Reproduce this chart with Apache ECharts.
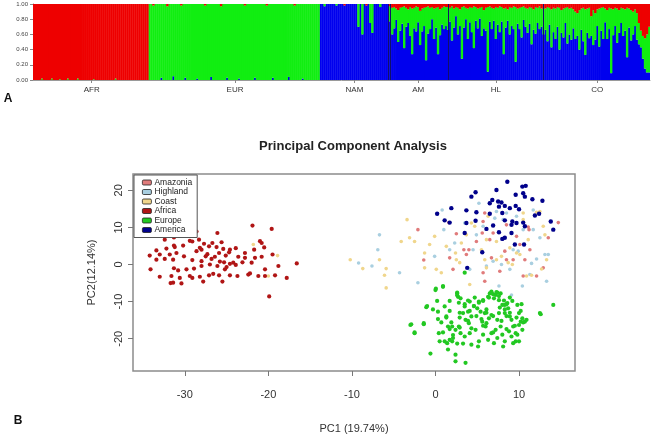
<!DOCTYPE html>
<html><head><meta charset="utf-8">
<script src="https://cdn.jsdelivr.net/npm/echarts@6/dist/echarts.min.js"></script>
<style>html,body{margin:0;padding:0;background:#fff}#c{width:666px;height:435px}</style>
</head><body><div id="c"></div>
<script>
// ---------- Panel A: admixture proportions (K=3) ----------
const groupNames = ['AFR','EUR','NAM','AM','HL','CO'];
const yTicksA = [0, 0.2, 0.4, 0.6, 0.8, 1.0];

const afrBlue = [0,0,0,0,0,0,0,0,0,0, 0,0,0,0,0,0,0,0,0,0, 0,0,0,0,0,0,0,0,0,0, 0,0,0,0,0,0,0,0,0,0, 0,0,0,0,0,0,0,0,0,0, 0,0,0,0,0,0,0,0];
const afrGreen = [0,0,0,0,0.02,0,0,0,0,0.02, 0,0,0,0.01,0,0,0,0.02,0,0, 0,0,0.02,0,0,0,0,0,0,0, 0.01,0,0,0,0,0,0,0,0,0, 0,0.02,0,0,0,0,0,0,0,0, 0,0,0,0,0,0,0,0];
const afrRed = [1,1,1,1,0.98,1,1,1,1,0.98, 1,1,1,0.99,1,1,1,0.98,1,1, 1,1,0.98,1,1,1,1,1,1,1, 0.99,1,1,1,1,1,1,1,1,1, 1,0.98,1,1,1,1,1,1,1,1, 1,1,1,1,1,1,1,1];

const eurBlue = [0,0,0,0,0,0,0.03,0,0,0, 0,0,0.05,0,0,0,0,0,0.03,0, 0,0,0,0,0.02,0,0,0,0,0, 0,0.04,0,0,0,0,0,0,0,0.03, 0,0,0,0,0,0.02,0,0,0,0, 0,0,0,0.03,0,0,0,0,0,0, 0,0,0.03,0,0,0,0,0,0,0, 0.04,0,0,0,0,0,0,0.02,0,0, 0,0,0,0,0,0];
const eurGreen = [1,1,0.98,1,1,1,0.97,1,1,0.97, 1,1,0.95,1,1,1,0.98,1,0.97,1, 1,1,1,1,0.98,1,1,1,0.98,1, 1,0.96,1,1,1,1,0.97,1,1,0.97, 1,1,1,1,1,0.98,1,1,0.98,1, 1,1,1,0.97,1,1,1,1,1,0.98, 1,1,0.97,1,1,1,1,1,1,1, 0.96,1,1,0.98,1,1,1,0.98,1,1, 1,1,1,1,1,1];
const eurRed = [0,0,0.02,0,0,0,0,0,0,0.03, 0,0,0,0,0,0,0.02,0,0,0, 0,0,0,0,0,0,0,0,0.02,0, 0,0,0,0,0,0,0.03,0,0,0, 0,0,0,0,0,0,0,0,0.02,0, 0,0,0,0,0,0,0,0,0,0.02, 0,0,0,0,0,0,0,0,0,0, 0,0,0,0.02,0,0,0,0,0,0, 0,0,0,0,0,0];

const namBlue = [1,1,0.97,1,1,1,1,1,0.98,1, 1,1,0.98,1,1,1,1,1,1,0.70, 1,0.60,1,0.98,1,0.75,0.62,1,1,1, 0.96,1,1,1,1];
const namGreen = [0,0,0.03,0,0,0,0,0,0.02,0, 0,0,0,0,0,0,0,0,0,0.30, 0,0.40,0,0,0,0.25,0.38,0,0,0, 0.04,0,0,0,0];
const namRed = [0,0,0,0,0,0,0,0,0,0, 0,0,0.02,0,0,0,0,0,0,0, 0,0,0,0.02,0,0,0,0,0,0, 0,0,0,0,0];

const amBlue = [0.77,0.60,0.68,0.79,0.50,0.65,0.74,0.42,0.70,0.75,0.58,0.34,0.68,0.64,0.76,0.46,0.64,0.71,0.26,0.61,0.67,0.80,0.54,0.69,0.34,0.59,0.73,0.67,0.71];
const amGreen = [0.20,0.35,0.28,0.15,0.42,0.30,0.22,0.55,0.25,0.18,0.38,0.60,0.27,0.33,0.20,0.45,0.30,0.24,0.70,0.36,0.28,0.16,0.40,0.26,0.62,0.34,0.22,0.30,0.25];
const amRed = [0.03,0.05,0.04,0.06,0.08,0.05,0.04,0.03,0.05,0.07,0.04,0.06,0.05,0.03,0.04,0.09,0.06,0.05,0.04,0.03,0.05,0.04,0.06,0.05,0.04,0.07,0.05,0.03,0.04];

const hlBlue = [0.66,0.77,0.52,0.69,0.84,0.60,0.71,0.28,0.69,0.80,0.54,0.76,0.63,0.42,0.78,0.68,0.81,0.58,0.68,0.65,0.11,0.77,0.67,0.78,0.54,0.73,0.63,0.77,0.34,0.69,0.78,0.60,0.71,0.67,0.24,0.74,0.67,0.56,0.79,0.70,0.62,0.74,0.47,0.66,0.61,0.75,0.67,0.70];
const hlGreen = [0.30,0.18,0.45,0.25,0.12,0.35,0.22,0.68,0.28,0.15,0.40,0.20,0.32,0.55,0.18,0.26,0.14,0.38,0.24,0.30,0.85,0.20,0.28,0.16,0.42,0.22,0.34,0.19,0.60,0.26,0.15,0.36,0.24,0.30,0.72,0.20,0.28,0.40,0.18,0.25,0.32,0.22,0.48,0.27,0.35,0.20,0.30,0.24];
const hlRed = [0.04,0.05,0.03,0.06,0.04,0.05,0.07,0.04,0.03,0.05,0.06,0.04,0.05,0.03,0.04,0.06,0.05,0.04,0.08,0.05,0.04,0.03,0.05,0.06,0.04,0.05,0.03,0.04,0.06,0.05,0.07,0.04,0.05,0.03,0.04,0.06,0.05,0.04,0.03,0.05,0.06,0.04,0.05,0.07,0.04,0.05,0.03,0.06];

const coBlue = [0.60,0.66,0.51,0.73,0.43,0.63,0.54,0.70,0.40,0.62,0.56,0.75,0.48,0.60,0.53,0.68,0.54,0.58,0.40,0.66,0.51,0.33,0.62,0.55,0.58,0.46,0.53,0.71,0.44,0.65,0.54,0.76,0.54,0.67,0.09,0.59,0.71,0.49,0.62,0.75,0.58,0.65,0.30,0.69,0.52,0.60,0.71,0.53,0.47,0.43,0.28,0.15,0.10,0.10];
const coGreen = [0.35,0.28,0.45,0.22,0.50,0.32,0.40,0.26,0.55,0.30,0.38,0.20,0.48,0.34,0.42,0.25,0.36,0.30,0.52,0.28,0.44,0.60,0.32,0.40,0.26,0.46,0.35,0.22,0.50,0.30,0.42,0.18,0.38,0.28,0.85,0.34,0.24,0.45,0.30,0.20,0.36,0.28,0.65,0.25,0.40,0.30,0.22,0.35,0.28,0.22,0.30,0.40,0.50,0.60];
const coRed = [0.05,0.06,0.04,0.05,0.07,0.05,0.06,0.04,0.05,0.08,0.06,0.05,0.04,0.06,0.05,0.07,0.10,0.12,0.08,0.06,0.05,0.07,0.06,0.05,0.16,0.08,0.12,0.07,0.06,0.05,0.04,0.06,0.08,0.05,0.06,0.07,0.05,0.06,0.08,0.05,0.06,0.07,0.05,0.06,0.08,0.10,0.07,0.12,0.25,0.35,0.42,0.45,0.40,0.30];

// ---------- Panel B: PCA (PC1, PC2) ----------
const pcaTicksX = [-30, -20, -10, 0, 10];
const pcaTicksY = [-20, -10, 0, 10, 20];
const popNames = ['Amazonia','Highland','Coast','Africa','Europe','America'];

const amazonia = [[-2.1,9.4],[1.6,11.3],[2.5,8.3],[3.4,4.0],[4.0,4.0],[-1.4,1.2],[5.9,13.9],[5.7,11.6],[5.6,8.5],[6.9,8.5],[8.5,10.7],[9.7,7.6],[10.1,5.4],[9.3,1.3],[8.5,1.3],[6.7,1.8],[12.9,-0.9],[12.1,-3.1],[11.1,10.1],[13.5,7.2],[14.7,11.3],[3.7,2.7],[1.7,1.8],[2.1,-1.3],[7.7,-1.8],[5.7,-2.2],[10.5,-3.1],[11.3,4.0],[8.3,3.6],[4.9,6.2],[6.5,6.7],[11.2,9.4],[10.7,1.3],[5.9,-4.5]];
const highland = [[-6.7,8.0],[-6.9,4.0],[-7.6,-0.4],[-4.3,-2.2],[-2.1,-4.9],[0.8,14.7],[5.2,16.5],[7.3,14.3],[8.5,13.9],[11.7,14.7],[8.1,12.1],[7.1,12.5],[11.7,9.4],[10.5,9.4],[12.5,7.2],[3.5,11.2],[4.5,4.0],[9.3,4.0],[9.9,3.6],[6.9,0.9],[7.9,0.0],[11.5,0.3],[12.1,1.5],[13.1,2.7],[13.5,2.7],[13.3,-4.5],[11.3,-2.7],[8.9,-1.3],[6.1,-0.4],[1.7,4.0],[-0.1,2.2],[1.0,9.4],[2.3,5.8],[4.1,-1.3],[4.9,8.0],[5.7,10.3],[9.7,13.0],[-9.2,0.4],[7.6,-5.8],[10.4,-5.8],[9.1,-8.2]];
const coast = [[-3.4,12.1],[-4.1,6.2],[-3.1,7.2],[-2.5,6.2],[-6.7,1.3],[-8.7,-1.1],[-5.9,-1.1],[-6.1,-2.9],[-5.9,-6.3],[-1.3,-0.9],[-10.2,1.3],[-0.1,7.6],[1.3,4.9],[2.4,3.1],[3.1,5.8],[4.3,11.2],[4.7,10.3],[5.5,4.0],[5.9,1.3],[6.1,-0.9],[7.3,1.3],[8.7,0.5],[9.2,0.0],[9.7,3.1],[10.5,13.9],[11.1,6.7],[10.9,-3.1],[11.5,-2.9],[0.7,-2.2],[0.1,-1.3],[2.9,0.5],[3.7,8.0],[6.1,6.7],[7.3,6.2],[8.9,4.5],[7.9,2.2],[6.3,13.0],[10.5,12.1],[12.1,14.1],[2.5,1.3],[-1.3,3.1],[-0.7,5.4],[12.9,10.3],[13.1,8.0],[13.3,1.3],[12.7,-1.2],[10.1,2.7],[12.5,14.3],[4.1,-5.4],[-21.8,5.4],[-18.9,2.4],[-20.0,-3.1]];
const africa = [[-28.6,8.9],[-26.1,8.5],[-32.4,6.7],[-31.3,7.3],[-29.4,6.4],[-29.1,6.2],[-28.3,6.7],[-27.7,5.6],[-26.7,5.8],[-25.6,6.0],
[-30.2,5.1],[-31.3,5.1],[-31.2,4.7],[-32.2,4.3],[-33.4,3.8],[-28.2,4.5],[-28.0,4.0],[-28.6,3.6],[-27.1,4.9],[-26.2,4.7],
[-25.4,4.2],[-24.6,4.0],[-23.9,4.4],[-22.8,3.1],[-21.9,10.5],[-19.6,9.6],[-21.0,6.3],[-20.8,5.8],[-21.7,4.0],[-20.5,4.6],
[-34.2,2.4],[-33.0,2.7],[-31.8,2.7],[-31.0,3.1],[-30.1,2.2],[-27.3,2.8],[-27.5,2.2],[-26.4,2.1],[-25.9,3.1],[-25.1,2.4],
[-24.7,3.3],[-23.6,2.1],[-22.8,1.8],[-21.6,1.8],[-20.8,2.1],[-19.5,2.7],[-33.4,1.3],[-32.4,1.5],[-31.4,1.3],[-29.1,1.2],
[-28.0,0.9],[-26.8,1.5],[-25.8,0.8],[-25.3,0.6],[-24.6,0.2],[-24.2,0.5],[-23.1,0.6],[-22.0,0.5],[-34.1,-1.3],[-31.3,-1.0],
[-30.8,-1.6],[-29.8,-1.3],[-28.9,-1.1],[-28.0,-0.4],[-27.0,0.0],[-26.1,-0.4],[-25.2,-1.3],[-25.0,-0.7],[-23.9,-0.1],[-20.4,-1.3],
[-18.8,-0.4],[-16.6,0.3],[-33.0,-3.3],[-31.6,-3.1],[-30.6,-3.6],[-29.4,-3.1],[-29.1,-3.6],[-28.2,-3.3],[-27.1,-2.9],[-26.6,-2.5],
[-25.9,-2.9],[-24.6,-2.9],[-23.7,-3.1],[-22.4,-2.7],[-22.2,-2.4],[-21.2,-3.1],[-20.4,-3.1],[-19.2,-2.9],[-17.8,-3.6],[-31.4,-4.9],
[-30.4,-5.1],[-31.7,-5.0],[-27.8,-4.6],[-25.5,-4.6],[-19.9,-8.6]];
const europe = [[-3.0,-16.3],[-2.5,-18.5],[-1.4,-15.8],[-1.1,-11.5],[-0.6,-24.0],[0.0,-6.9],[0.9,-6.0],[1.1,-11.3],[1.5,-16.7],[2.4,-24.3],
[2.6,-7.8],[2.7,-8.7],[2.0,-20.7],[0.3,-12.7],[0.4,-18.5],[0.5,-20.7],[1.1,-20.7],[1.4,-21.2],[1.7,-20.3],[2.0,-16.7],
[0.7,-15.6],[1.3,-14.0],[3.0,-9.1],[3.3,-13.1],[3.5,-11.3],[3.6,-14.9],[3.9,-12.7],[4.0,-15.8],[4.1,-10.0],[4.3,-14.0],
[4.6,-11.2],[4.8,-17.6],[5.0,-11.8],[5.2,-10.0],[5.4,-12.7],[5.6,-15.4],[5.7,-9.6],[5.9,-13.1],[6.0,-16.7],[6.3,-8.7],
[6.5,-7.8],[6.7,-7.3],[7.0,-9.1],[7.2,-8.2],[7.4,-7.6],[7.6,-9.6],[7.8,-7.8],[8.0,-10.9],[7.6,-13.1],[7.4,-14.9],
[7.8,-16.7],[8.3,-13.1],[8.3,-10.9],[8.6,-10.4],[8.7,-11.8],[8.9,-14.0],[9.1,-14.9],[9.3,-16.7],[9.6,-18.5],[9.8,-10.9],
[10.0,-13.1],[10.2,-15.4],[10.4,-14.5],[10.0,-16.3],[9.8,-18.9],[9.6,-20.7],[9.3,-21.2],[5.7,-18.9],[5.2,-20.7],[5.1,-22.1],
[4.3,-21.6],[4.1,-18.5],[3.5,-19.4],[3.0,-18.5],[2.8,-16.7],[2.4,-17.6],[2.1,-19.8],[1.5,-22.9],[3.3,-21.3],[2.6,-21.3],
[2.4,-26.1],[3.6,-26.5],[6.3,-20.3],[7.0,-21.2],[8.1,-22.1],[6.1,-15.8],[6.4,-14.5],[6.7,-13.6],[7.2,-17.6],[8.0,-18.9],
[8.3,-20.7],[8.8,-18.0],[9.1,-19.4],[12.6,-13.4],[14.1,-10.9],[10.4,-17.6],[10.7,-15.4],[10.9,-14.9],[7.4,-19.8],[10.0,-20.7],
[6.7,-18.5],[3.5,-2.2],[0.9,-5.8],[0.05,-6.5],[2.6,-7.6],[2.6,-8.3],[-1.0,-11.2],[0.2,-9.8],[1.7,-9.8],[2.8,-10.3],
[3.9,-9.7],[4.7,-8.9],[3.5,-10.7],[4.6,-11.2],[5.2,-10.3],[5.7,-9.8],[6.4,-8.9],[6.9,-8.0],[7.3,-7.4],[7.6,-8.5],
[8.2,-9.7],[8.5,-10.7],[8.9,-8.9],[9.2,-9.8],[10.3,-10.7],[10.2,-12.5],[12.5,-13.1],[-2.9,-16.1],[-1.4,-16.1],[0.3,-14.7],
[1.3,-14.3],[1.9,-15.6],[2.9,-14.3],[3.9,-15.2],[4.9,-13.9],[5.5,-14.7],[6.1,-13.0],[6.9,-13.9],[7.9,-15.2],[8.5,-13.9],
[8.9,-13.0],[9.7,-14.3],[10.5,-15.6],[-2.5,-18.3],[0.9,-18.3],[1.7,-17.4],[2.9,-17.0],[4.3,-17.2],[5.7,-16.5],[6.9,-18.3],
[8.5,-17.4],[9.5,-16.5],[6.1,-12.1],[7.7,-11.6],[8.3,-12.1],[4.1,-12.5],[2.9,-13.0],[1.7,-12.5],[-0.3,-12.1],[2.1,-19.0]];
const america = [[8.6,22.3],[7.3,20.1],[4.8,19.5],[4.3,18.3],[6.8,17.4],[7.5,17.0],[7.9,16.7],[9.6,18.8],[10.4,21.0],[10.8,21.2],
[10.5,19.2],[10.7,18.3],[11.6,17.6],[12.8,17.2],[6.5,16.5],[7.6,15.6],[8.3,15.8],[8.9,15.2],[9.6,15.8],[10.0,14.9],
[0.2,13.7],[1.9,15.2],[3.7,14.6],[4.9,14.1],[6.5,13.7],[8.0,13.9],[11.9,13.2],[12.4,13.7],[1.1,11.9],[1.7,11.3],
[3.7,11.2],[4.8,11.8],[6.9,10.5],[8.3,11.9],[9.2,11.6],[9.7,11.2],[10.5,11.3],[13.8,11.6],[6.1,9.6],[7.6,8.7],
[9.1,10.7],[8.3,7.2],[9.1,8.5],[3.5,8.5],[8.0,6.9],[9.5,5.4],[5.6,3.3],[3.8,-0.9],[14.1,9.4],[10.7,10.3],[10.6,5.4]];

// ---------- build ----------
const blueGroups = [afrBlue, eurBlue, namBlue, amBlue, hlBlue, coBlue];
const greenGroups = [afrGreen, eurGreen, namGreen, amGreen, hlGreen, coGreen];
const redGroups = [afrRed, eurRed, namRed, amRed, hlRed, coRed];
const cats = [], centerIdx = new Set(), startIdx = [];
let k = 0;
groupNames.forEach((g, gi) => {
  const n = blueGroups[gi].length;
  startIdx.push(k);
  for (let i = 0; i < n; i++) cats.push(g + '#' + i);
  centerIdx.add(k + Math.floor(n / 2));
  k += n;
});
const blueAll = [].concat(...blueGroups);
const greenAll = [].concat(...greenGroups);
const redAll = [].concat(...redGroups);
const showCenter = (idx) => centerIdx.has(idx);

const FONT = 'Liberation Sans, Arial, Helvetica, sans-serif';
const popData = [amazonia, highland, coast, africa, europe, america];
const popColors = ['#e07b7b', '#a9cfe0', '#f0d68c', '#b01515', '#22c822', '#00008b'];
const popSizes = [3.6, 3.6, 3.6, 4.2, 4.2, 4.4];

const chart = echarts.init(document.getElementById('c'), null, {renderer: 'canvas'});
const barCommon = {type: 'bar', stack: 'k', xAxisIndex: 0, yAxisIndex: 0, barCategoryGap: '0%', barWidth: 2.4, silent: true, large: false};

const option = {
  animation: false,
  backgroundColor: '#fff',
  textStyle: {fontFamily: FONT},
  grid: [
    {left: 33, top: 4, width: 617, height: 76},
    {left: 133, top: 174, width: 442, height: 198, show: true, borderColor: '#8c8c8c', borderWidth: 1.5, backgroundColor: 'transparent'}
  ],
  xAxis: [
    {gridIndex: 0, type: 'category', data: cats, boundaryGap: true,
     axisLine: {show: true, lineStyle: {color: '#9a9a9a', width: 1}},
     axisTick: {show: true, alignWithLabel: true, interval: showCenter, length: 3, lineStyle: {color: '#888'}},
     axisLabel: {interval: showCenter, formatter: v => v.split('#')[0], fontSize: 8, color: '#333', margin: 6},
     splitLine: {show: false}},
    {gridIndex: 1, type: 'value', min: -36.2, max: 16.7, position: 'bottom',
     name: 'PC1 (19.74%)', nameLocation: 'middle', nameGap: 52, nameTextStyle: {fontSize: 11, color: '#333'},
     axisLine: {show: false, onZero: false}, splitLine: {show: false},
     axisTick: {show: true, customValues: pcaTicksX, length: 5, lineStyle: {color: '#777'}},
     axisLabel: {customValues: pcaTicksX, fontSize: 11, color: '#333', margin: 18}}
  ],
  yAxis: [
    {gridIndex: 0, type: 'value', min: 0, max: 1, interval: 0.2,
     axisLine: {show: true, lineStyle: {color: '#888'}},
     axisTick: {show: true, length: 3, lineStyle: {color: '#888'}},
     axisLabel: {customValues: yTicksA, formatter: v => v.toFixed(2), fontSize: 6, color: '#444', margin: 5},
     splitLine: {show: false}},
    {gridIndex: 1, type: 'value', min: -28.7, max: 24.4, position: 'left',
     name: 'PC2(12.14%)', nameLocation: 'middle', nameGap: 36, nameTextStyle: {fontSize: 11, color: '#333'},
     axisLine: {show: false, onZero: false}, splitLine: {show: false},
     axisTick: {show: true, customValues: pcaTicksY, length: 5, lineStyle: {color: '#777'}},
     axisLabel: {customValues: pcaTicksY, rotate: 90, fontSize: 11, color: '#333', margin: 9}}
  ],
  legend: {
    data: popNames, orient: 'vertical', left: 134, top: 175,
    icon: 'roundRect', itemWidth: 9, itemHeight: 5, itemGap: 0.5,
    textStyle: {fontSize: 8.5, lineHeight: 8.5, color: '#222', padding: [0, 0, 0, -2]},
    itemStyle: {borderColor: '#222', borderWidth: 0.8},
    borderColor: '#555', borderWidth: 1, padding: [3, 5, 3, 8], backgroundColor: '#fff',
    selectedMode: false
  },
  graphic: [
    {type: 'text', x: 353, y: 146, style: {text: 'Principal Component Analysis', font: 'bold 13px ' + FONT, fill: '#222', textAlign: 'center', textVerticalAlign: 'middle', align: 'center', verticalAlign: 'middle'}},
    {type: 'text', x: 8, y: 99, style: {text: 'A', font: 'bold 12px ' + FONT, fill: '#111', textAlign: 'center', textVerticalAlign: 'middle', align: 'center', verticalAlign: 'middle'}},
    {type: 'text', x: 18, y: 421, style: {text: 'B', font: 'bold 12px ' + FONT, fill: '#111', textAlign: 'center', textVerticalAlign: 'middle', align: 'center', verticalAlign: 'middle'}}
  ],
  series: [
    Object.assign({}, barCommon, {name: 'K1', data: blueAll, itemStyle: {color: '#0000ee'},
      markLine: {silent: true, symbol: 'none', label: {show: false}, lineStyle: {color: '#10106a', width: 1, type: 'solid'},
        data: startIdx.slice(3).map(i => ({xAxis: cats[i]})).concat([{xAxis: cats[startIdx[2] + blueGroups[2].length - 1]}])}}),
    Object.assign({}, barCommon, {name: 'K2', data: greenAll, itemStyle: {color: '#11ee11'}}),
    Object.assign({}, barCommon, {name: 'K3', data: redAll, itemStyle: {color: '#ee0000'}})
  ].concat(popNames.map((nm, i) => ({
    name: nm, type: 'scatter', xAxisIndex: 1, yAxisIndex: 1, data: popData[i],
    symbol: 'circle', symbolSize: popSizes[i], silent: true,
    itemStyle: {color: popColors[i], opacity: 1}
  })))
};
chart.setOption(option);
</script></body></html>
